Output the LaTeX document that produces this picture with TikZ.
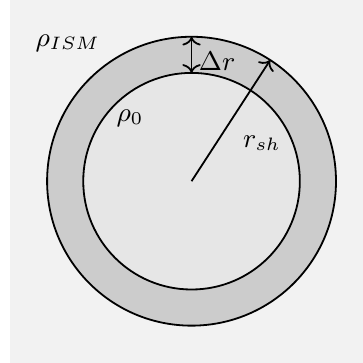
\documentclass[tikz,border=0pt]{standalone}
\usepackage{tikz}
\usetikzlibrary{arrows.meta,positioning,calc}
\definecolor{ismgray}{RGB}{242,242,242}
\definecolor{shellgray}{RGB}{204,204,204}
\definecolor{coregray}{RGB}{230,230,230}
\tikzset{
  shell/.style={circle,draw=black,semithick,outer sep=0pt,inner sep=0pt},
  lbl/.style={inner sep=0pt,font=\small},
  flow/.style={->,semithick}
}
\begin{document}
\begin{tikzpicture}[x=1pt,y=1pt]
\useasboundingbox (0,0) rectangle (121,121);
\fill[white] (0,0) rectangle (121,121);
\fill[ismgray] (3.3,0) rectangle (121,121);
\coordinate (centre) at (63.85,60.6);
\node[shell, fill=shellgray, minimum size=96.3pt] (outer) at (centre) {};
\node[shell, fill=coregray, minimum size=72.2pt] (inner) at (centre) {};
% labels
\node[lbl] (ism) at (22.6,106.7) {$\rho_{ISM}$};
\node[lbl] (dr) at (72.4,100.6) {$\Delta r$};
\node[lbl] (rho0) at (43.3,81.7) {$\rho_0$};
\node[lbl] (rsh) at (87.3,73.4) {$r_{sh}$};
% arrows
\draw[flow] (centre) -- (outer.57.3);
\draw[flow,<->] (inner.north) -- (outer.north);
\end{tikzpicture}
\end{document}
